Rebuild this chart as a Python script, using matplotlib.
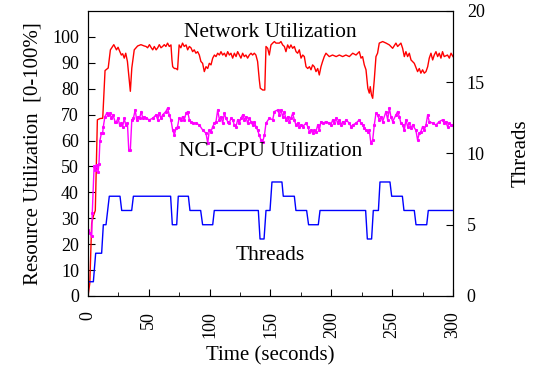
import matplotlib
matplotlib.use("Agg")
import matplotlib.pyplot as plt
from matplotlib.ticker import MultipleLocator

plt.rcParams["font.family"] = ["Liberation Serif", "DejaVu Serif"]
plt.rcParams["font.size"] = 13

# network utilization (%)
net_t = [0, 1.5, 3, 4.5, 6, 7.7, 10, 12.1, 14, 16.6, 18.4, 21.2, 23.4, 24.7, 26, 27.4, 28.5, 29.8,
         31, 32.4, 34.8, 36, 38, 40.8, 43.5, 46.2, 47.7, 49, 50.5, 52, 53.2, 54.5, 56, 57.3, 58.6,
         60, 61.3, 62.7, 64, 65.4, 66.8, 68.2, 69, 69.6, 71, 72.3, 73.6, 74.9, 76.3, 77.7, 79.1,
         80.6, 81.9, 83.3, 84.6, 86, 87.3, 88.7, 90.1, 91.5, 92.8, 94.2, 95.6, 97, 98.4, 99.7,
         101.1, 102.5, 103.9, 105.2, 106.6, 108, 109.3, 110.7, 112.1, 113.4, 114.8, 116.2, 117.5,
         118.9, 120.3, 121.7, 123, 124.4, 125.7, 127.1, 128.5, 129.8, 131.2, 132.6, 134, 135.3,
         136.7, 138, 139.4, 140.8, 141.6, 143.6, 145.3, 146.3, 147.7, 149, 150.4, 151.8, 153.2,
         154.5, 157.3, 158.6, 160, 161.4, 162.7, 164.1, 165.5, 166.8, 168.2, 169.6, 171, 172.3,
         173.7, 175.1, 176.5, 177.8, 179.2, 180.6, 182, 183.3, 184.6, 186, 187.4, 188.8, 190.1,
         191.5, 192.8, 194.2, 195.6, 198.3, 201, 204, 206.6, 209.3, 212, 214.8, 217.6, 220.3,
         223, 224.4, 225.7, 227.1, 228.5, 230, 231.2, 232, 233, 234, 235.3, 236.7, 238, 239.4,
         242.2, 245, 247.7, 250.4, 253.1, 254.5, 257.2, 258.6, 260, 261.3, 262.7, 264.1, 265.5,
         268.2, 270.9, 272.3, 273.6, 275, 276.4, 277.8, 279.2, 280.5, 281.9, 283.3, 284.6, 286,
         287.4, 288.7, 290.1, 291.4, 292.8, 295.5, 297, 298.4, 300]
net_v = [0, 5, 28, 31, 33, 68, 68.5, 68.6, 87, 88, 95, 97, 95, 96, 94.5, 93, 93.5, 91.8,
         93.7, 90.5, 79, 88, 95, 96.5, 97, 96.5, 96.3, 95.8, 97, 95.8, 95, 96.3, 95, 95.8, 97,
         95.8, 96.3, 97, 96.3, 97.6, 96.3, 96.9, 91.1, 88.5, 87.8, 87.8, 87.3, 96.9, 95.8, 97.6, 96.3,
         96.9, 95, 96.3, 95.8, 94.3, 95, 93.7, 94.3, 93, 90.5, 89.8, 86.6, 88.5, 87.8, 89.8,
         89.2, 91.8, 93, 92.4, 93.7, 93, 94.3, 93, 93.7, 92.4, 94.3, 93, 93.7,
         91.8, 93.7, 92.4, 94.3, 93, 91.8, 93.7, 92.4, 93, 91.8, 93, 93.7, 93,
         93.7, 93, 90.5, 83.4, 80.2, 79.5, 79.5, 96.3, 95.6, 93, 96.9, 97.6, 98.2,
         97.6, 97.6, 98.2, 96.9, 96.3, 94.3, 96.9, 95.6, 96.9, 95.6, 96.3, 94.3, 93.7,
         95, 91.8, 93, 92.4, 88.5, 87.8, 88.5, 87.3, 89.2, 88.5, 86.6, 87.8, 85.3,
         88.5, 90.5, 92.4, 93.7, 92.4, 93, 92.4, 93, 92.4, 93, 92.4, 93.7, 93,
         94.3, 91.8, 92.4, 89.2, 87.3, 80.2, 78.3, 80.8, 77.6, 76.3, 83.4, 92.4, 93.7, 97.6,
         98.2, 97.6, 96.9, 95.6, 97.6, 96.3, 97.6, 95.6, 92.4, 94.3, 92.4, 93.7, 91.1,
         89.8, 86.6, 87.8, 86, 87.3, 86, 86.6, 88.5, 91.8, 93.7, 91.1, 93, 94.3,
         92.4, 93.7, 91.8, 94.3, 92.4, 93, 91.8, 93.7, 92.4]

# NCI-CPU utilization (%)
cpu_t = [0, 1.5, 3, 3.5, 5, 6, 7, 8.3, 9, 9.8, 11, 12, 12.6, 13.9, 15.3, 16.6, 18, 19.2, 20.6,
         22.2, 23.4, 24.7, 26, 27.4, 28.5, 29.8, 31, 32.4, 33.5, 34.8, 36, 37.3, 38.8, 40, 41.2,
         42.4, 43.8, 45, 46.2, 47.7, 50.5, 53.2, 55.9, 57.3, 58.6, 60, 61.3, 64, 65.4, 66.8, 68.2,
         69.6, 71, 72.3, 73.6, 74.9, 76.3, 77.7, 79.1, 80.6, 81.9, 83.3, 84.6, 86, 88.7, 91.5,
         94.3, 97, 98.4, 99.7, 101.1, 102.5, 103.9, 105.2, 106.6, 108, 109.3, 110.7, 112.1, 113.4,
         114.8, 116.2, 117.5, 118.9, 120.3, 121.7, 123, 124.4, 125.7, 127.1, 128.5, 129.8, 131.2,
         132.6, 134, 135.3, 136.7, 138, 139.4, 140.8, 142.2, 143.6, 145, 146.3, 149, 151.8, 153.2,
         155.9, 157.3, 158.6, 160, 161.4, 162.7, 164.1, 165.5, 166.8, 168.2, 169.6, 170.9, 172.3,
         173.7, 175.1, 176.5, 179.2, 180.6, 182, 183.3, 184.6, 186, 187.4, 188.8, 190.1, 191.5,
         192.8, 195.6, 198.3, 199.7, 201.1, 202.5, 203.9, 205.2, 206.6, 208, 209.3, 210.7, 212,
         214.8, 216.2, 217.6, 220.3, 223, 224.4, 225.7, 227.1, 228.5, 229.8, 231.2, 232.5, 234,
         235.3, 236.7, 238, 239.4, 240.8, 242.2, 244.9, 246.3, 247.7, 249, 250.4, 253.1, 254.5,
         255.9, 257.2, 258.6, 260, 261.3, 262.7, 264.1, 265.5, 266.8, 269.5, 270.9, 272.3, 273.6,
         275, 276.4, 277.8, 279.2, 280.5, 283.3, 286, 288.7, 291.4, 292.8, 294.1, 295.5, 297,
         298.4, 300]
cpu_v = [25.5, 24.5, 23, 32, 50, 48.6, 50.6, 48, 51, 60, 62.8, 62.8, 65.4, 69.2, 70.5, 69.9, 70.5, 68.6, 69.9,
         67.3, 67.3, 68.6, 66, 66.7, 65.4, 68.6, 66, 66.7, 56.4, 56.4, 68, 68.6, 71.8, 68, 69.2,
         68.6, 71.2, 68.6, 69.2, 68.6, 68, 68.6, 69.9, 68, 70.5, 68.6, 69.9, 71.2, 72.5, 69.9, 68,
         64, 62.2, 64.7, 65.4, 68.6, 68, 69.2, 68, 70.5, 71.2, 68, 67.3, 66.7, 66.7, 66,
         64, 62.8, 59, 64, 63.4, 65.4, 66.7, 67.3, 71.8, 68, 69.2, 66.7, 70.5, 68.6,
         67.3, 66.7, 68.6, 68, 66, 65.4, 68, 66.7, 68.6, 69.9, 68, 69.2, 66.7,
         68.6, 67.3, 66, 67.3, 65.4, 64, 62, 60.2, 59.6, 62, 66.7, 68.6, 68, 71.2,
         71.8, 69.9, 71.8, 69.2, 71.2, 68, 69.2, 67.3, 68.6, 70.5, 68, 66, 66.7,
         65.4, 66, 65.4, 66.7, 65.4, 63.4, 64, 62.8, 64, 63.4, 66, 64, 67.3,
         66.7, 67.3, 66.7, 66, 68, 66.7, 68.6, 66.7, 68, 66, 67.3, 66.7, 68,
         66.7, 65.4, 66, 66.7, 68, 66.7, 66, 64.7, 64, 63.4, 64, 59, 60.2,
         66, 70.5, 69.9, 68, 69.2, 67.3, 71.2, 68, 72.5, 69.2, 67.3, 69.9, 71.2,
         69.2, 66.7, 66, 64, 68, 65.4, 66.7, 64.7, 66, 64, 60.2, 62.8, 63.4,
         65.4, 64, 66, 69.9, 67.3, 66.7, 66, 67.3, 68, 66.7, 67.3, 65.4, 66.7,
         66, 66]

# number of threads
thr_t = [0.5, 4.4, 6.3, 11.2, 12.6, 14.8, 17.5, 26.3, 27.7, 35.9, 37.3, 67.9, 69.3, 72.9, 74.2,
         82.5, 83.8, 92.6, 94.2, 102.5, 103.8, 140, 141.4, 144.7, 146.3, 149.6, 151.2, 159.4,
         160.5, 169.6, 170.9, 179.7, 181.3, 189.3, 190.7, 228.2, 229.6, 233.1, 234.5, 238.7, 240,
         248.2, 249.6, 258.4, 259.7, 268.2, 269.6, 278.4, 279.7, 300]
thr_v = [1, 1, 3, 3, 5, 5, 7, 7, 6, 6, 7, 7, 5, 5, 7,
         7, 6, 6, 5, 5, 6, 6, 4, 4, 6, 6, 8, 8,
         7, 7, 6, 6, 5, 5, 6, 6, 4, 4, 6, 6, 8,
         8, 7, 7, 6, 6, 5, 5, 6, 6]

fig = plt.figure(figsize=(5.35, 3.71), dpi=100)
ax = fig.add_axes([0.1645, 0.2022, 0.6822, 0.7682])
ax2 = ax.twinx()

ax.plot(net_t, net_v, color="#ff0000", linewidth=1.0)
ax.plot(cpu_t, cpu_v, color="#ff00ff", linewidth=1.0, marker="s", markersize=1.2)
ax2.plot(thr_t, thr_v, color="#0000ff", linewidth=1.0)

ax.set_xlim(0, 300)
ax.set_ylim(0, 110)
ax2.set_ylim(0, 20)

ax.xaxis.set_major_locator(MultipleLocator(50))
ax.xaxis.set_minor_locator(MultipleLocator(25))
ax.set_yticks(range(0, 101, 10))
ax2.yaxis.set_major_locator(MultipleLocator(5))

ax.tick_params(axis="both", which="both", direction="in", top=False, right=False)
ax.tick_params(axis="x", which="major", length=5, labelrotation=90, pad=11)
ax.tick_params(axis="x", which="minor", length=3)
ax.tick_params(axis="y", length=5, pad=6.5)
ax2.tick_params(axis="y", direction="in", length=5, pad=10)

lab = 15
ax.set_xlabel("Time (seconds)", fontsize=lab, labelpad=6)
ax.set_ylabel("Resource Utilization  [0-100%]", fontsize=lab, labelpad=7)
ax2.set_ylabel("Threads", fontsize=lab, labelpad=19)

ax.text(150, 101.8, "Network Utilization", ha="center", va="center", fontsize=15.5)
ax.text(150, 55.6, "NCI-CPU Utilization", ha="center", va="center", fontsize=15.5)
ax.text(150, 15.5, "Threads", ha="center", va="center", fontsize=15.5)

plt.savefig("out.png", dpi=100)
